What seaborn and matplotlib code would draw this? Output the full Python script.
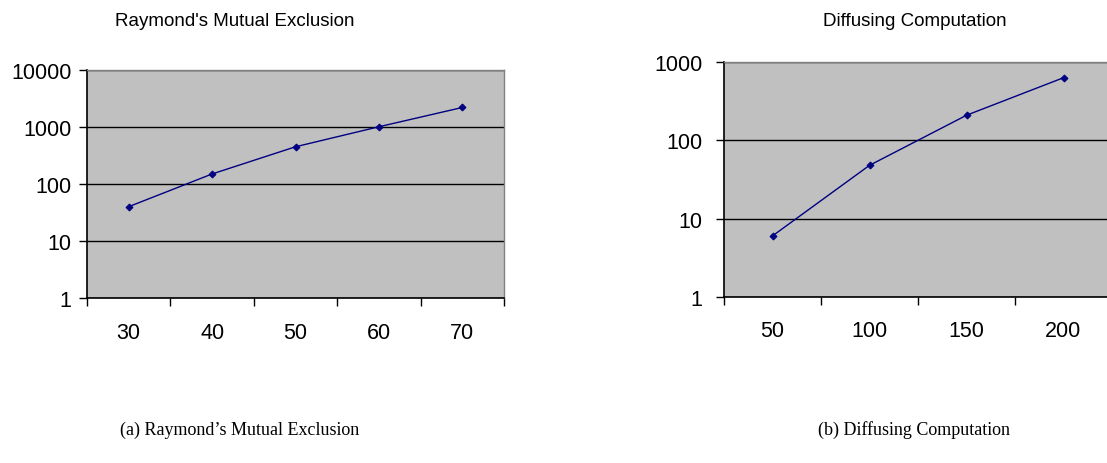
import numpy as np
import pandas as pd
import matplotlib
matplotlib.use("Agg")
import matplotlib.pyplot as plt
import seaborn as sns

# Raymond's mutual exclusion
raymond_nodes = [30, 40, 50, 60, 70]
raymond_values = [40, 150, 450, 1010, 2200]

# Diffusing computation
diffusing_nodes = [50, 100, 150, 200]
diffusing_values = [6, 48, 210, 635]

BG = "#c0c0c0"
LINE = "#000080"
DPI = 100
W, H = 1107, 464
TICK_LEN = 5.8  # points, ~8 px


def draw_panel(ax, nodes, values, ylim, ytick_pad):
    df = pd.DataFrame({"pos": np.arange(len(nodes)), "value": values})
    sns.lineplot(data=df, x="pos", y="value", ax=ax, color=LINE, linewidth=1.0,
                 marker="D", markersize=3.5, markeredgecolor=LINE)
    ax.set_yscale("log")
    ax.set_ylim(*ylim)
    ax.set_xlim(-0.5, len(nodes) - 0.5)
    ax.set_facecolor(BG)

    # category axis: labels at centres, tick marks at boundaries
    ax.set_xticks(np.arange(len(nodes)))
    ax.set_xticklabels([str(n) for n in nodes])
    ax.set_xticks(np.arange(len(nodes) + 1) - 0.5, minor=True)
    ax.tick_params(axis="x", which="major", bottom=True, length=0, pad=17,
                   labelsize=15.5, labelcolor="black")
    ax.tick_params(axis="x", which="minor", bottom=True, length=TICK_LEN, width=1,
                   color="black")

    decades = 10.0 ** np.arange(np.log10(ylim[0]), np.log10(ylim[1]) + 1)
    ax.set_yticks(decades)
    ax.set_yticklabels([f"{int(d)}" for d in decades])
    ax.yaxis.set_minor_locator(matplotlib.ticker.NullLocator())
    ax.tick_params(axis="y", which="major", left=True, length=TICK_LEN, width=1,
                   pad=ytick_pad, labelsize=15.5, color="black", labelcolor="black")

    ax.grid(axis="y", which="major", color="black", linewidth=1)
    ax.set_axisbelow(True)
    for side in ("left", "bottom"):
        ax.spines[side].set_color("black")
        ax.spines[side].set_linewidth(1.2)
    for side in ("top", "right"):
        ax.spines[side].set_color("#808080")
        ax.spines[side].set_linewidth(1.0)

    ax.set_xlabel("")
    ax.set_ylabel("")


sns.set_style("white")
plt.rcParams["font.family"] = ["Liberation Sans", "DejaVu Sans"]

fig = plt.figure(figsize=(W / DPI, H / DPI), dpi=DPI)
ax1 = fig.add_axes([87 / W, 1 - 299 / H, (504 - 87) / W, (299 - 71) / H])
ax2 = fig.add_axes([724 / W, 1 - 297.7 / H, 388 / W, (297.7 - 63.3) / H])

draw_panel(ax1, raymond_nodes, raymond_values, (1, 10000), 5.3)
draw_panel(ax2, diffusing_nodes, diffusing_values, (1, 1000), 9.8)

fig.text(235 / W, 1 - 22 / H, "Raymond's Mutual Exclusion", ha="center",
         va="center", fontsize=13.5, color="black")
fig.text(915 / W, 1 - 22 / H, "Diffusing Computation", ha="center",
         va="center", fontsize=13.5, color="black")

fig.text(240 / W, 1 - 430 / H, "(a) Raymond\u2019s Mutual Exclusion", ha="center",
         va="center", fontsize=13, color="black",
         family=["Liberation Serif", "DejaVu Serif"])
fig.text(914 / W, 1 - 430 / H, "(b) Diffusing Computation", ha="center",
         va="center", fontsize=13, color="black",
         family=["Liberation Serif", "DejaVu Serif"])

fig.savefig("out.png", dpi=DPI, facecolor="white")
